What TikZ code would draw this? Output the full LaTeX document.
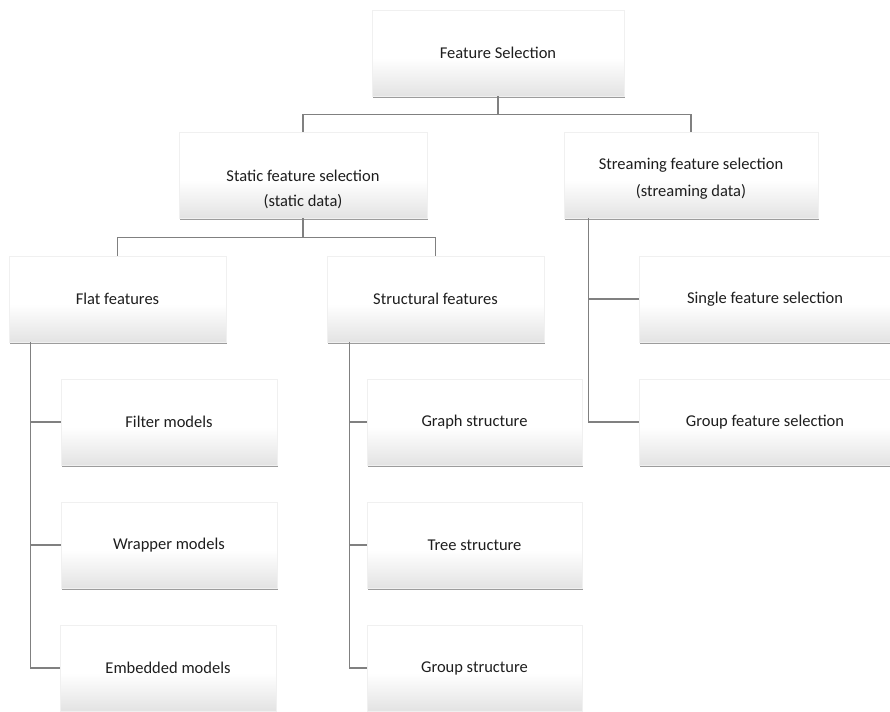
\documentclass[tikz,border=0pt]{standalone}
\usepackage{fontspec}
\setmainfont{Carlito}
\usetikzlibrary{shadows}
\definecolor{linegray}{HTML}{808080}
\definecolor{txt}{HTML}{1E1E1E}
\pgfdeclareverticalshading{boxshade}{100bp}{color(0bp)=(black!11); color(25bp)=(black!11); color(47bp)=(white); color(100bp)=(white)}
\tikzset{
  box/.style={rectangle, minimum height=86pt, inner sep=0pt, align=center,
    draw=black!6, line width=0.4pt,
    shading=boxshade,
    drop shadow={opacity=0.7, shadow xshift=1.3pt, shadow yshift=-2.4pt, fill=black!55},
    font=\fontsize{16.5}{19}\selectfont, text=txt},
  conn/.style={draw=linegray, line width=1.3pt}
}
\begin{document}
\begin{tikzpicture}[x=1pt, y=-1pt]
\useasboundingbox (0,0) rectangle (890,711);
\fill[white] (0,0) rectangle (890,711);
\node[box, minimum width=252pt] (fs) at (498,53) {Feature Selection};
\node[box, minimum width=248pt] (static) at (303,175) {\raisebox{-15pt}[\height][\depth]{\begin{tabular}{@{}c@{}}Static feature selection\\[6pt](static data)\end{tabular}}};
\node[box, minimum width=254pt] (stream) at (691,175) {\raisebox{-4pt}[\height][\depth]{\begin{tabular}{@{}c@{}}Streaming feature selection\\[8pt](streaming data)\end{tabular}}};
\node[box, minimum width=217pt] (flat) at (117.5,299) {Flat features};
\node[box, minimum width=217pt] (struct) at (435.5,299) {Structural features};
\node[box, minimum width=252pt] (single) at (765,299) {Single feature selection};
\node[box, minimum width=216pt] (filter) at (169,422) {Filter models};
\node[box, minimum width=215pt] (graph) at (474.5,422) {Graph structure};
\node[box, minimum width=252pt] (gfs) at (765,422) {Group feature selection};
\node[box, minimum width=216pt] (wrapper) at (169,545) {Wrapper models};
\node[box, minimum width=215pt] (tree) at (474.5,545) {Tree structure};
\node[box, minimum width=216pt] (embedded) at (168,668) {Embedded models};
\node[box, minimum width=215pt] (gstruct) at (474.5,668) {Group structure};
\draw[conn] (fs.south) -- ++(0,18) -| (static.north);
\draw[conn] (fs.south) -- ++(0,18) -| (stream.north);
\draw[conn] (static.south) -- ++(0,19) -| (flat.north);
\draw[conn] (static.south) -- ++(0,19) -| (struct.north);
\draw[conn] ([xshift=25pt]stream.south west) |- (single.west);
\draw[conn] ([xshift=25pt]stream.south west) |- (gfs.west);
\draw[conn] ([xshift=22pt]flat.south west) |- (filter.west);
\draw[conn] ([xshift=22pt]flat.south west) |- (wrapper.west);
\draw[conn] ([xshift=22pt]flat.south west) |- (embedded.west);
\draw[conn] ([xshift=23pt]struct.south west) |- (graph.west);
\draw[conn] ([xshift=23pt]struct.south west) |- (tree.west);
\draw[conn] ([xshift=23pt]struct.south west) |- (gstruct.west);
\end{tikzpicture}
\end{document}
